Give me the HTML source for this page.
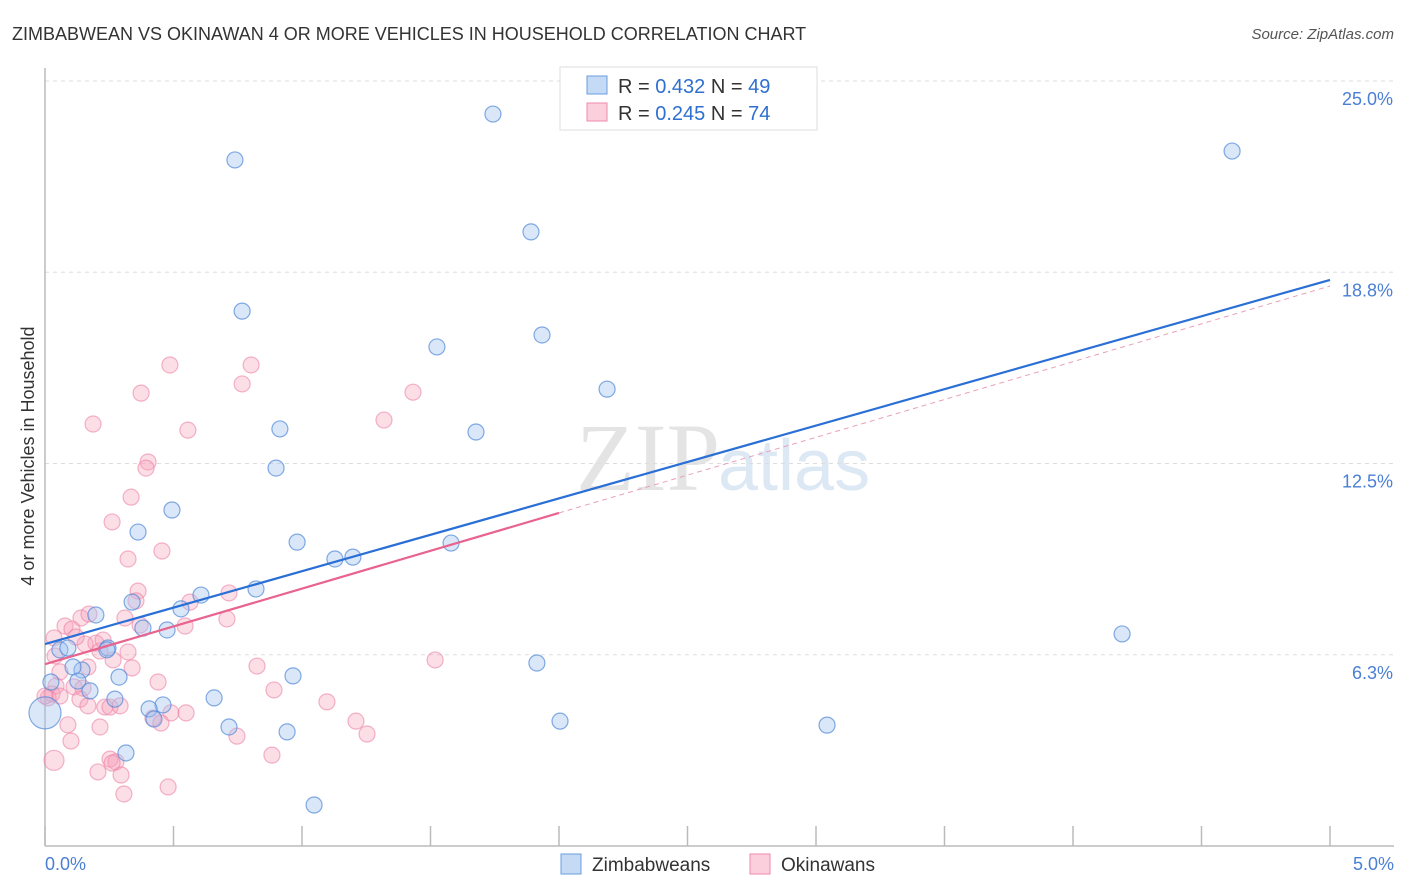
<!DOCTYPE html>
<html><head><meta charset="utf-8">
<style>
body{margin:0;background:#fff;font-family:"Liberation Sans",sans-serif;}
#wrap{position:relative;width:1406px;height:892px;overflow:hidden;}
</style></head>
<body>
<div id="wrap">
<svg id="chart" width="1406" height="892">
 <text x="12" y="40" font-size="18" fill="#333">ZIMBABWEAN VS OKINAWAN 4 OR MORE VEHICLES IN HOUSEHOLD CORRELATION CHART</text>
 <text x="1394" y="39" font-size="15" fill="#555" font-style="italic" text-anchor="end">Source: ZipAtlas.com</text>
 <text x="720" y="490" font-size="96" fill="#e4e4e4" font-family="Liberation Serif,serif" text-anchor="end">ZIP</text>
 <text x="718" y="490" font-size="72" fill="#dde8f5">atlas</text>
 <g id="grid"></g>
 <g id="pts"></g>
 <g id="lines"></g>
 <text transform="translate(34,456) rotate(-90)" font-size="18" fill="#333" text-anchor="middle">4 or more Vehicles in Household</text>
 <text x="45" y="870" font-size="18" fill="#4a7fd4">0.0%</text>
 <text x="1394" y="870" font-size="18" fill="#4a7fd4" text-anchor="end">5.0%</text>
 <g>
  <rect x="560" y="67" width="257" height="63" fill="#fff" stroke="#ddd"/>
  <rect x="587" y="76" width="20" height="18" fill="#c5dbf5" stroke="#6a9de0"/>
  <rect x="587" y="103" width="20" height="18" fill="#fbd0dc" stroke="#ec8aa8"/>
  <text x="618" y="93" font-size="20" fill="#333">R = <tspan fill="#2f6fd0">0.432</tspan>   N = <tspan fill="#2f6fd0">49</tspan></text>
  <text x="618" y="120" font-size="20" fill="#333">R = <tspan fill="#2f6fd0">0.245</tspan>   N = <tspan fill="#2f6fd0">74</tspan></text>
 </g>
 <g>
  <rect x="561" y="854" width="20" height="20" fill="#c5dbf5" stroke="#6a9de0"/>
  <text x="592" y="871" font-size="19" fill="#333">Zimbabweans</text>
  <rect x="750" y="854" width="20" height="20" fill="#fbd0dc" stroke="#ec8aa8"/>
  <text x="781" y="871" font-size="19" fill="#333">Okinawans</text>
 </g>
</svg>
</div>
<script>
const yTicks=[25.0,18.75,12.5,6.25];
const yTickLabels=["25.0%","18.8%","12.5%","6.3%"];
const xTicks=[0,0.5,1,1.5,2,2.5,3,3.5,4,4.5,5];
const blueX=[1.743,0.739,4.619,1.891,0.767,1.934,1.525,2.187,0.914,1.677,0.899,0.494,0.362,0.981,1.580,1.128,1.198,0.821,0.607,0.339,0.529,0.381,0.475,0.198,4.191,0.058,0.089,0.245,0.241,0.144,0.109,1.914,0.965,0.288,0.128,0.023,0.175,0.272,0.658,0.459,0.405,0.424,0.716,0.942,2.004,3.043,0.315,1.047,0];
const blueY=[23.92,22.42,22.71,20.07,17.48,16.70,16.31,14.93,13.63,13.53,12.35,10.98,10.26,9.93,9.90,9.38,9.44,8.40,8.20,7.97,7.75,7.12,7.06,7.55,6.93,6.41,6.47,6.47,6.41,5.75,5.85,5.98,5.56,5.52,5.39,5.36,5.07,4.80,4.84,4.61,4.48,4.15,3.89,3.73,4.08,3.95,3.04,1.34,4.35];
const blueR=[8,8,8,8,8,8,8,8,8,8,8,8,8,8,8,8,8,8,8,8,8,8,8,8,8,8,8,8,8,8,8,8,8,8,8,8,8,8,8,8,8,8,8,8,8,8,8,8,16];
const pinkX=[0.486,0.802,0.374,0.767,1.432,1.319,0.187,0.556,0.401,0.393,0.335,0.261,0.455,0.323,0.362,0.716,0.354,0.564,0.140,0.171,0.078,0.105,0.311,0.708,0.545,0.035,0.198,0.323,0.214,0.265,0.167,0.339,0.825,1.518,0.058,0.043,0.113,0.148,0.440,0.891,0.027,0.136,0.012,0.167,0.233,0.253,0.292,1.097,0.490,0.549,0.420,0.451,1.210,0.089,0.214,0.747,1.253,0.101,0.883,0.253,0.276,0.261,0.035,0.206,0.296,0.307,0.479,0,0.039,0.226,0.370,0.058,0.156,0.121];
const pinkY=[15.72,15.72,14.80,15.10,14.83,13.92,13.79,13.59,12.55,12.35,11.40,10.59,9.64,9.38,8.33,8.27,8.01,7.97,7.45,7.58,7.19,7.09,7.45,7.42,7.19,6.80,6.63,6.34,6.37,6.08,5.85,5.82,5.88,6.08,5.69,5.23,5.20,5.16,5.36,5.10,4.97,4.80,4.84,4.58,4.54,4.54,4.58,4.71,4.35,4.35,4.18,4.02,4.08,3.96,3.89,3.59,3.66,3.43,2.97,2.84,2.75,2.71,2.80,2.42,2.32,1.70,1.93,4.90,6.21,6.73,7.22,4.90,6.60,6.83];
const blueFit=[6.6,18.5];
const pinkFit=[5.94,18.3];
const pinkSolidEnd=2.0;

const NS="http://www.w3.org/2000/svg";
const X0=45,X1=1330,Y0=846,YPER=30.6;
const sx=v=>X0+(v/5)*(X1-X0);
const sy=v=>Y0-v*YPER;
function mk(tag,attrs,parent){const e=document.createElementNS(NS,tag);for(const k in attrs)e.setAttribute(k,attrs[k]);parent.appendChild(e);return e;}
const grid=document.getElementById('grid');
yTicks.forEach((t,i)=>{
 const l=mk('line',{x1:X0,x2:1394,y1:sy(t),y2:sy(t),stroke:'#ddd','stroke-dasharray':'4,4'},grid);
 
 
 const tx=mk('text',{x:1393,y:sy(t)+24,'font-size':18,fill:'#4a7fd4','text-anchor':'end'},grid);
 tx.textContent=yTickLabels[i];
 
 
});
const ax=mk('line',{x1:X0,x2:X0,y1:68,y2:Y0,stroke:'#bbb','stroke-width':1.5},grid);


const bx=mk('line',{x1:X0,x2:1394,y1:Y0,y2:Y0,stroke:'#bbb','stroke-width':1.5},grid);


xTicks.forEach(t=>{
 const l=mk('line',{x1:sx(t),x2:sx(t),y1:Y0,y2:Y0-20,stroke:'#bbb','stroke-width':1.5},grid);
 
 
});
const pts=document.getElementById('pts');
pinkX.forEach((v,i)=>{
 const c=mk('circle',{cx:sx(v),cy:sy(pinkY[i]),r:(i==65?8:(pinkX[i]<0.05&&pinkY[i]<3?10:8)),fill:'rgba(246,160,185,0.35)',stroke:'rgba(236,130,165,0.6)','stroke-width':1.2},pts);
 
 
});
blueX.forEach((v,i)=>{
 const c=mk('circle',{cx:sx(v),cy:sy(blueY[i]),r:blueR[i],fill:'rgba(160,195,240,0.4)',stroke:'rgba(80,135,215,0.7)','stroke-width':1.2},pts);
 
 
});
const lines=document.getElementById('lines');
const bl=mk('line',{x1:sx(0),y1:sy(blueFit[0]),x2:sx(5),y2:sy(blueFit[1]),stroke:'#2a6fd6','stroke-width':2.2},lines);


const pAt=x=>pinkFit[0]+(pinkFit[1]-pinkFit[0])*x/5;
const pl=mk('line',{x1:sx(0),y1:sy(pAt(0)),x2:sx(pinkSolidEnd),y2:sy(pAt(pinkSolidEnd)),stroke:'#e8648f','stroke-width':2.2},lines);


const pd=mk('line',{x1:sx(pinkSolidEnd),y1:sy(pAt(pinkSolidEnd)),x2:sx(5),y2:sy(pAt(5)),stroke:'#e8a0b8','stroke-width':1,'stroke-dasharray':'5,4'},lines);


</script>
</body></html>
